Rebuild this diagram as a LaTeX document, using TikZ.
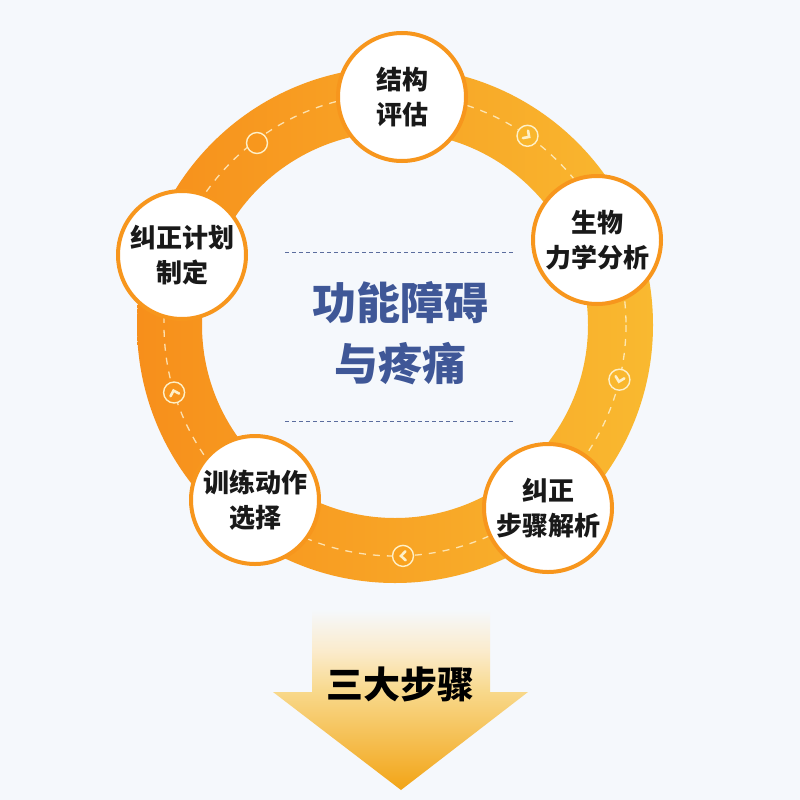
\documentclass[tikz,border=0pt]{standalone}
\usepackage{fontspec}
\newfontfamily\cjk{Noto Sans CJK SC}
\definecolor{bg}{HTML}{F5F8FC}
\definecolor{ringL}{HTML}{F78F1B}
\definecolor{ringM}{HTML}{F9A21F}
\definecolor{ringR}{HTML}{F9B930}
\definecolor{nodeor}{HTML}{F7961D}
\definecolor{marker}{HTML}{FEF0C8}
\definecolor{titleblue}{HTML}{3F5797}
\definecolor{dashblue}{HTML}{5B6D9E}
\definecolor{arrA}{HTML}{F2A416}
\definecolor{arrB}{HTML}{F8D88A}
\definecolor{arrC}{HTML}{FBEBCB}
\pgfdeclareverticalshading{arrowsh}{100bp}{color(0bp)=(arrA); color(25bp)=(arrA); color(50.5bp)=(arrB); color(61bp)=(arrC); color(72bp)=(bg); color(100bp)=(bg)}
\tikzset{
  stepnode/.style={circle, minimum size=128pt, inner sep=0pt, draw=nodeor, line width=4pt, fill=white, align=center, text=black!90, font=\cjk\bfseries\fontsize{26}{35}\selectfont},
  markring/.style={draw=marker, line width=1.4pt},
  chev/.style={draw=marker, line width=2.6pt, line cap=round, line join=miter},
  midline/.style={draw=marker!80, line width=1.3pt, dash pattern=on 7pt off 7pt, opacity=0.8},
  sepline/.style={draw=dashblue, line width=0.9pt, dash pattern=on 4pt off 3pt}
}
\begin{document}
\begin{tikzpicture}[x=1pt,y=-1pt]
\fill[bg] (0,0) rectangle (800,800);
\useasboundingbox (0,0) rectangle (800,800);
% ring
\coordinate (c) at (395,325);
\shade[left color=ringL, middle color=ringM, right color=ringR, even odd rule] (c) circle (258) (c) circle (193);
\draw[midline] (c) circle (231);
% markers
\coordinate (m1) at (527.5,135.8);
\coordinate (m2) at (619.4,379.7);
\coordinate (m3) at (403,555.9);
\coordinate (m4) at (174.1,392.5);
\coordinate (m5) at (257,143);
\foreach \m/\col in {m1/ringR!85!ringM, m2/ringR!90!ringM, m3/ringM, m4/ringL!70!ringM, m5/ringL!60!ringM}{
  \fill[\col] (\m) circle (11);
  \draw[markring] (\m) circle (10.5);
}
\foreach \m/\b in {m1/-35, m2/-103.7, m3/-178, m4/107}{
  \begin{scope}[shift={(\m)}, rotate=\b]
    \draw[chev] (-2.5,-4.5) -- (2,0) -- (-2.5,4.5);
  \end{scope}
}
% bottom arrow
\shade[shading=arrowsh] (312,598) -- (490,598) -- (490,692) -- (528,692) -- (401,790) -- (273,692) -- (312,692) -- cycle;
\node[font=\cjk\bfseries\fontsize{37}{40}\selectfont, text=black] (steps) at (400,684) {三大步骤};
% nodes
\node[stepnode] (n1) at (402,97) {结构\\评估};
\node[stepnode] (n2) at (597,240) {生物\\力学分析};
\node[stepnode] (n3) at (548,508) {纠正\\步骤解析};
\node[stepnode] (n4) at (255,500) {训练动作\\选择};
\node[stepnode] (n5) at (182,255) {纠正计划\\制定};
% center title
\coordinate (s1a) at (285,252);
\coordinate (s1b) at (515,252);
\coordinate (s2a) at (285,421);
\coordinate (s2b) at (515,421);
\draw[sepline] (s1a) -- (s1b);
\draw[sepline] (s2a) -- (s2b);
\node[align=center, text=titleblue, font=\cjk\bfseries\fontsize{44}{61}\selectfont] (title) at (400,333) {功能障碍\\与疼痛};
\end{tikzpicture}
\end{document}
